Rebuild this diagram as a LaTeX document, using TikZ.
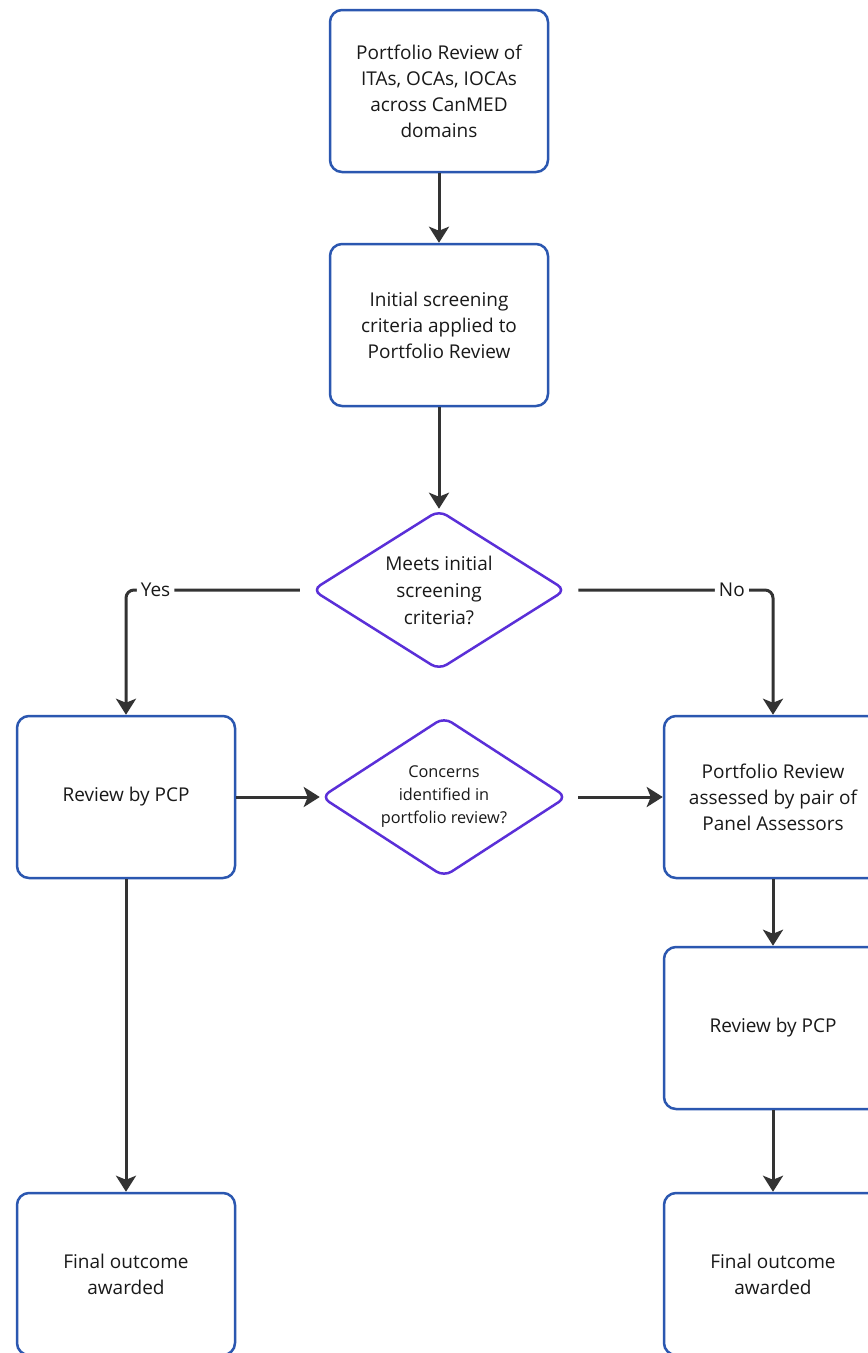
\documentclass[tikz,border=0pt]{standalone}
\usepackage{fontspec}
\setmainfont{Open Sans}
\usetikzlibrary{shapes.geometric,arrows.meta}
\definecolor{boxblue}{HTML}{2B57B0}
\definecolor{dpurple}{HTML}{5A2FD8}
\definecolor{arrgray}{HTML}{333333}
\tikzset{
  procbox/.style={draw=boxblue, line width=2.5pt, rounded corners=12pt, fill=white,
    minimum width=218pt, minimum height=162pt, align=center, inner sep=0pt,
    font=\fontsize{19}{26}\selectfont, text=black!90},
  decision/.style={diamond, aspect=1.6, draw=dpurple, line width=2.5pt, rounded corners=9pt, fill=white,
    minimum width=254pt, minimum height=160pt, align=center, inner sep=0pt,
    text=black!90},
  conn/.style={draw=arrgray, line width=3pt, -{Stealth[length=16pt,width=20pt,inset=4pt]}},
  lbl/.style={fill=white, inner sep=4pt, font=\fontsize{19}{22}\selectfont, text=black!90}
}
\begin{document}
\begin{tikzpicture}[x=1pt,y=-1pt]
\useasboundingbox (0,0) rectangle (868,1353);
\clip (0,0) rectangle (868,1353);
\fill[white] (0,0) rectangle (868,1353);
\node[procbox] (top) at (439,91) {Portfolio Review of\\ITAs, OCAs, IOCAs\\across CanMED\\domains};
\node[procbox] (screen) at (439,325) {Initial screening\\criteria applied to\\Portfolio Review};
\node[decision, font=\fontsize{19}{27}\selectfont] (meets) at (439,590) {Meets initial\\screening\\criteria?};
\node[procbox] (pcpL) at (126,797) {Review by PCP};
\node[decision, minimum width=246pt, font=\fontsize{16.3}{23}\selectfont] (concern) at (444,797) {Concerns\\identified in\\portfolio review?};
\node[procbox] (panel) at (773,797) {Portfolio Review\\assessed by pair of\\Panel Assessors};
\node[procbox] (pcpR) at (773,1028) {Review by PCP};
\node[procbox] (finL) at (126,1274) {Final outcome\\awarded};
\node[procbox] (finR) at (773,1274) {Final outcome\\awarded};

\draw[conn] (top) -- (screen);
\draw[conn] (screen) -- (meets);
\draw[conn, rounded corners=8pt, shorten <=11pt] (meets.west) -| node[lbl, pos=0.42] {Yes} (pcpL.north);
\draw[conn, rounded corners=8pt, shorten <=11pt] (meets.east) -| node[lbl, pos=0.40] {No} (panel.north);
\draw[conn] (pcpL) -- (concern);
\draw[conn, shorten <=10pt] (concern) -- (panel);
\draw[conn] (panel) -- (pcpR);
\draw[conn] (pcpR) -- (finR);
\draw[conn] (pcpL) -- (finL);
\end{tikzpicture}
\end{document}
